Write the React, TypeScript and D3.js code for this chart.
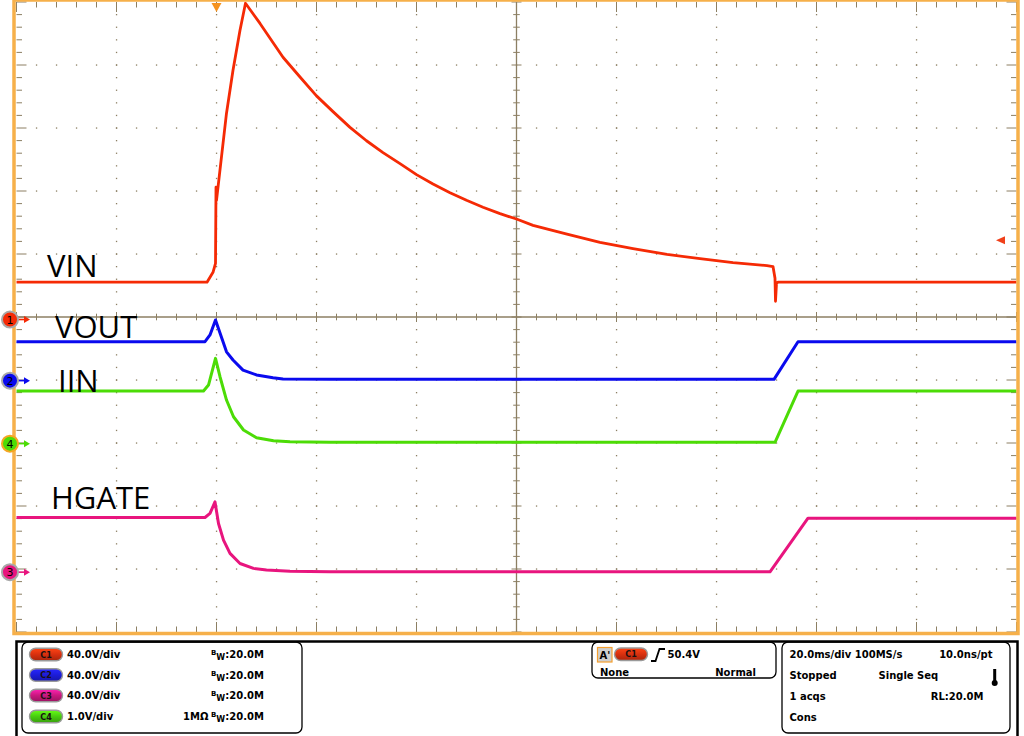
import React from "react";
import * as d3 from "d3";

// ---------- data (time in ms, 20 ms/div; values in channel units) ----------
const VIN_T = [0, 38.1, 39.3, 39.8, 39.9, 40.0, 42.0, 43.3, 44.7, 45.8, 48.7, 53.3, 56.7, 60.0, 63.3, 66.7, 70.0, 73.3, 76.7, 80.0, 83.3, 86.7, 90.0, 93.3, 96.7, 100.0, 103.3, 110.1, 116.7, 123.3, 130.1, 136.7, 143.3, 150.1, 151.3, 151.7, 151.8, 152.0, 152.3, 200];
const VIN_V = [23.7, 23.7, 30.0, 35.7, 84.0, 75.7, 131.0, 158.3, 183.7, 200.8, 188.0, 166.5, 154.0, 142.0, 132.0, 122.0, 113.5, 106.0, 99.0, 92.0, 86.0, 80.5, 75.7, 71.3, 67.2, 63.8, 59.8, 54.2, 49.0, 45.0, 41.3, 38.6, 36.1, 34.2, 33.6, 26.2, 11.6, 23.0, 23.7, 23.7];

const VOUT_T = [0, 37.7, 38.7, 39.8, 40.7, 42.0, 43.3, 45.3, 48.0, 51.3, 53.3, 62.7, 151.5, 156.3, 200];
const VOUT_V = [24.7, 24.7, 29.0, 38.5, 30.2, 18.3, 13.1, 6.7, 3.6, 1.8, 1.0, 0.8, 0.8, 24.7, 24.7];

const IIN_T = [0, 37.4, 38.4, 39.8, 40.7, 42.0, 43.4, 45.4, 48.0, 51.4, 54.7, 62.7, 151.7, 156.3, 200];
const IIN_V = [0.835, 0.835, 0.93, 1.354, 1.062, 0.692, 0.427, 0.216, 0.094, 0.046, 0.03, 0.021, 0.021, 0.835, 0.835];

const HGATE_T = [0, 37.7, 38.7, 39.7, 40.4, 41.4, 42.7, 44.7, 47.4, 50.0, 54.7, 62.7, 150.7, 158.3, 200];
const HGATE_V = [34.7, 34.7, 37.3, 44.6, 30.9, 20.3, 11.9, 5.5, 2.4, 1.3, 0.6, 0.2, 0.2, 34.3, 34.3];

const CH_NAMES = ["VIN", "VOUT", "IIN", "HGATE"];
const CH_NUM = ["1", "2", "4", "3"];
const CH_SCALE = [40, 40, 1, 40]; // units per division
const CH_OFFSET = [-0.04, -1.01, -2.01, -4.05]; // ground position, divisions
const CH_COLOR = ["#f52a05", "#0a0aee", "#4cdc06", "#e8157e"];

const LEGEND_CH = ["C1", "C2", "C3", "C4"];
const LEGEND_SCALE = ["40.0V/div", "40.0V/div", "40.0V/div", "1.0V/div"];
const LEGEND_IMP = ["", "", "", "1MΩ"];
const LEGEND_COLOR = ["#d8300f", "#1c1cd8", "#c8187e", "#48cc10"];
const TRIG_LEVEL = 50.4;
const TRIG_TIME = 40;

const HOR_DIVS = 10;
const VER_DIVS = 10;

export default function App() {
  const X0 = 16.5, X1 = 1016.5, Y0 = 2, Y1 = 632;
  const x = d3.scaleLinear().domain([0, 200]).range([X0, X1]);
  const yDiv = d3.scaleLinear().domain([-VER_DIVS / 2, VER_DIVS / 2]).range([Y1, Y0]);
  const gx = d3.scaleLinear().domain([0, HOR_DIVS]).range([X0, X1]);
  const grid = "#8c7f63";

  const series = [
    [VIN_T, VIN_V],
    [VOUT_T, VOUT_V],
    [IIN_T, IIN_V],
    [HGATE_T, HGATE_V],
  ];
  const line = d3.line<[number, number]>().x((d) => x(d[0])).y((d) => d[1]);

  const traces = series.map(([T, V], ci) => {
    const pts: [number, number][] = T.map((t, i) => [t, yDiv(CH_OFFSET[ci] + V[i] / CH_SCALE[ci])]);
    return line(pts) as string;
  });

  // grid elements
  const dots: JSX.Element[] = [];
  const minorX = d3.range(0, HOR_DIVS * 5 + 1).map((k) => k / 5);
  const minorY = d3.range(0, VER_DIVS * 5 + 1).map((k) => k / 5 - VER_DIVS / 2);
  d3.range(1, HOR_DIVS).forEach((d) => {
    if (d === HOR_DIVS / 2) return;
    minorY.forEach((v, j) => {
      if (j === 0 || j === minorY.length - 1) return;
      dots.push(<rect key={`vd${d}-${j}`} x={gx(d) - 0.6} y={yDiv(v) - 0.6} width={1.3} height={1.3} fill={grid} />);
    });
  });
  d3.range(1, VER_DIVS).forEach((d) => {
    const v = d - VER_DIVS / 2;
    if (v === 0) return;
    minorX.forEach((u, j) => {
      if (j === 0 || j === minorX.length - 1) return;
      dots.push(<rect key={`hd${d}-${j}`} x={gx(u) - 0.6} y={yDiv(v) - 0.6} width={1.3} height={1.3} fill={grid} />);
    });
  });

  const ticks: JSX.Element[] = [];
  const cx = gx(HOR_DIVS / 2), cy = yDiv(0);
  minorX.forEach((u, j) => {
    const major = j % 5 === 0;
    const a = major ? 5 : 3.3;
    ticks.push(<line key={`cxt${j}`} x1={gx(u)} x2={gx(u)} y1={cy - a} y2={cy + a} stroke={grid} strokeWidth={1} />);
    const e = major ? 10 : 5.5;
    ticks.push(<line key={`txt${j}`} x1={gx(u)} x2={gx(u)} y1={Y0} y2={Y0 + e} stroke={grid} strokeWidth={1} />);
    ticks.push(<line key={`bxt${j}`} x1={gx(u)} x2={gx(u)} y1={Y1} y2={Y1 - e} stroke={grid} strokeWidth={1} />);
  });
  minorY.forEach((v, j) => {
    const major = j % 5 === 0;
    const a = major ? 5 : 3.3;
    ticks.push(<line key={`cyt${j}`} x1={cx - a} x2={cx + a} y1={yDiv(v)} y2={yDiv(v)} stroke={grid} strokeWidth={1} />);
    const e = major ? 10 : 5.5;
    ticks.push(<line key={`lyt${j}`} x1={X0} x2={X0 + e} y1={yDiv(v)} y2={yDiv(v)} stroke={grid} strokeWidth={1} />);
    ticks.push(<line key={`ryt${j}`} x1={X1} x2={X1 - e} y1={yDiv(v)} y2={yDiv(v)} stroke={grid} strokeWidth={1} />);
  });

  const labelPos = [
    { x: 47, y: 277 },
    { x: 55, y: 338 },
    { x: 58, y: 392 },
    { x: 51, y: 509 },
  ];

  const mk = (ci: number) => yDiv(CH_OFFSET[ci]);
  const markerOrder = [0, 1, 2, 3];
  const trigY = yDiv(CH_OFFSET[0] + TRIG_LEVEL / CH_SCALE[0]);
  const trigX = x(TRIG_TIME);

  const font = "'DejaVu Sans', sans-serif";

  const pill = (px: number, py: number, i: number, label: string, key: string) => (
    <g key={key}>
      <rect x={px} y={py} width={33} height={12.5} rx={6.25} fill={`url(#pg${i})`} stroke="#9a9a9a" strokeWidth={1.4} />
      <text x={px + 16.5} y={py + 9.3} textAnchor="middle" fontFamily={font} fontWeight="bold" fontSize={8} fill="#1a1010">{label}</text>
    </g>
  );

  const rowY = [654.5, 675, 695.5, 716.5];

  return (
    <svg width={1024} height={736} style={{ position: "absolute", left: 0, top: 0, background: "#fff" }}>
      <defs>
        {LEGEND_COLOR.map((c, i) => (
          <linearGradient key={i} id={`pg${i}`} x1="0" y1="0" x2="0" y2="1">
            <stop offset="0" stopColor={d3.color(c)!.brighter(1.0).formatHex()} />
            <stop offset="0.5" stopColor={c} />
            <stop offset="1" stopColor={d3.color(c)!.darker(0.7).formatHex()} />
          </linearGradient>
        ))}
      </defs>
      <rect x={0} y={0} width={1024} height={736} fill="#fff" />
      {/* grid */}
      <g>{dots}</g>
      <line x1={cx} x2={cx} y1={Y0} y2={Y1} stroke={grid} strokeWidth={1.3} />
      <line x1={X0} x2={X1} y1={cy} y2={cy} stroke={grid} strokeWidth={1.3} />
      <g>{ticks}</g>

      {/* traces */}
      {traces.map((d, i) => (
        <path key={i} d={d} fill="none" stroke={CH_COLOR[i]} strokeWidth={i === 0 ? 2.8 : 3} strokeLinejoin="round" />
      ))}

      {/* labels */}
      {CH_NAMES.map((n, i) => (
        <text key={n} x={labelPos[i].x} y={labelPos[i].y} fontFamily="'Open Sans', sans-serif" fontSize={31} fill="#000">{n}</text>
      ))}

      {/* frame */}
      <rect x={14} y={0} width={1004} height={633.5} fill="none" stroke="#f6b04a" strokeWidth={3.5} />

      {/* trigger markers */}
      <path d={`M${trigX - 5},${Y0 + 1} L${trigX + 5},${Y0 + 1} L${trigX},${Y0 + 10} Z`} fill="#f5921e" />
      <path d={`M${996},${trigY} L${1005},${trigY - 4} L${1005},${trigY + 4} Z`} fill="#f0401a" />

      {/* channel markers */}
      {markerOrder.map((ci) => {
        const my = mk(ci);
        const col = CH_COLOR[ci];
        const sel = CH_NUM[ci] === "4";
        return (
          <g key={`m${ci}`}>
            <line x1={17} x2={26} y1={my} y2={my} stroke={col} strokeWidth={1.6} />
            <path d={`M${24},${my - 3.5} L${30},${my} L${24},${my + 3.5} Z`} fill={col} />
            <circle cx={10} cy={my} r={8} fill={col} stroke={sel ? "#f5a623" : "#a8a8a8"} strokeWidth={2} />
            <text x={10} y={my + 4} textAnchor="middle" fontFamily={font} fontSize={11} fill="#000">{CH_NUM[ci]}</text>
          </g>
        );
      })}

      {/* bottom panel */}
      <rect x={16.5} y={641.5} width={1001} height={100} fill="none" stroke="#000" strokeWidth={2.5} />
      <rect x={22} y={642} width={280} height={91} rx={6} fill="none" stroke="#000" strokeWidth={1.3} />
      <rect x={592} y={642} width={184} height={36} rx={6} fill="none" stroke="#000" strokeWidth={1.3} />
      <rect x={782} y={642} width={228} height={91} rx={6} fill="none" stroke="#000" strokeWidth={1.3} />

      {LEGEND_CH.map((c, i) => (
        <g key={c}>
          {pill(29.5, rowY[i] - 6.25, i, c, `p${c}`)}
          <text x={67} y={rowY[i] + 3.8} fontFamily={font} fontWeight="bold" fontSize={10} fill="#000">{LEGEND_SCALE[i]}</text>
          {LEGEND_IMP[i] && (
            <text x={208.5} y={rowY[i] + 3.8} textAnchor="end" fontFamily={font} fontWeight="bold" fontSize={10} fill="#000">{LEGEND_IMP[i]}</text>
          )}
          <text fontFamily={font} fontWeight="bold" fill="#000">
            <tspan x={211} y={rowY[i] + 0.5} fontSize={7}>B</tspan>
            <tspan x={216.3} y={rowY[i] + 5.5} fontSize={8}>W</tspan>
            <tspan x={225.3} y={rowY[i] + 3.8} fontSize={10}>:20.0M</tspan>
          </text>
        </g>
      ))}

      {/* trigger box */}
      <rect x={597.5} y={647.5} width={14.5} height={14.5} fill="#cfcfcf" stroke="#f5a030" strokeWidth={1.2} />
      <text x={599.5} y={658.5} fontFamily={font} fontWeight="bold" fontSize={10} fill="#000">A'</text>
      {pill(614.5, 648, 0, "C1", "trigpill")}
      <path d="M651,661 H655.5 L659.5,649 H665" fill="none" stroke="#000" strokeWidth={1.8} />
      <text x={667.5} y={658} fontFamily={font} fontWeight="bold" fontSize={10} fill="#000">{TRIG_LEVEL.toFixed(1)}V</text>
      <text x={600} y={675.5} fontFamily={font} fontWeight="bold" fontSize={10} fill="#000">None</text>
      <text x={756} y={675.5} textAnchor="end" fontFamily={font} fontWeight="bold" fontSize={10} fill="#000">Normal</text>

      {/* acquisition box */}
      <text x={789.5} y={658} fontFamily={font} fontWeight="bold" fontSize={10} fill="#000">20.0ms/div 100MS/s</text>
      <text x={992.5} y={658} textAnchor="end" fontFamily={font} fontWeight="bold" fontSize={10} fill="#000">10.0ns/pt</text>
      <text x={789.5} y={678.5} fontFamily={font} fontWeight="bold" fontSize={10} fill="#000">Stopped</text>
      <text x={878.5} y={678.5} fontFamily={font} fontWeight="bold" fontSize={10} fill="#000">Single Seq</text>
      <rect x={993.2} y={669} width={3} height={12} fill="#000" />
      <circle cx={994.7} cy={683} r={3} fill="#000" />
      <text x={789.5} y={699.5} fontFamily={font} fontWeight="bold" fontSize={10} fill="#000">1 acqs</text>
      <text x={983.5} y={699.5} textAnchor="end" fontFamily={font} fontWeight="bold" fontSize={10} fill="#000">RL:20.0M</text>
      <text x={789.5} y={720.5} fontFamily={font} fontWeight="bold" fontSize={10} fill="#000">Cons</text>
    </svg>
  );
}
